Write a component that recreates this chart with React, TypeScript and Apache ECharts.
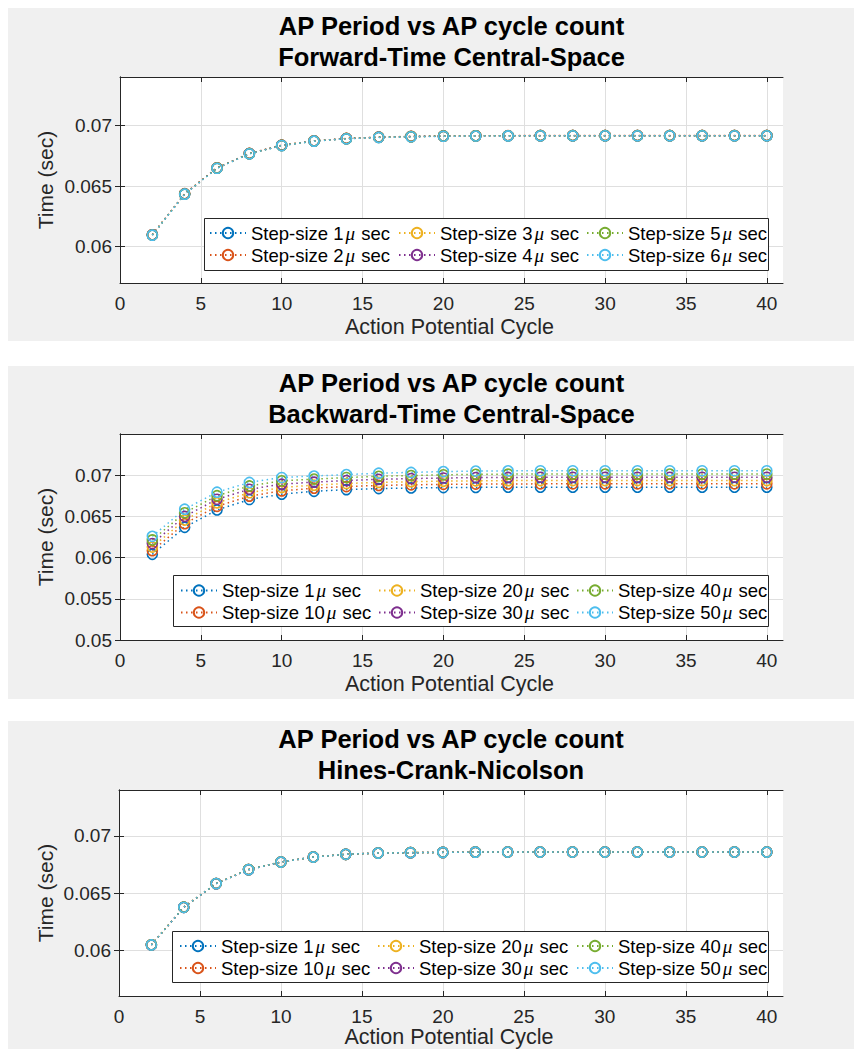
import React, { useEffect, useRef } from 'react';
import * as echarts from 'echarts';

// ---------- data ----------
const cycles = [2, 4, 6, 8, 10, 12, 14, 16, 18, 20, 22, 24, 26, 28, 30, 32, 34, 36, 38, 40];

const panelTitles = [
  'Forward-Time Central-Space',
  'Backward-Time Central-Space',
  'Hines-Crank-Nicolson',
];
const mainTitle = 'AP Period vs AP cycle count';
const xAxisTitle = 'Action Potential Cycle';
const yAxisTitle = 'Time (sec)';

const ftcsSteps = ['1', '2', '3', '4', '5', '6'];
const implicitSteps = ['1', '10', '20', '30', '40', '50'];

// Forward-Time Central-Space (step 1..6 µs) — practically identical
const ftcs1 = [0.06096, 0.06434, 0.06648, 0.06767, 0.06835, 0.06871, 0.06891, 0.06902, 0.06908, 0.06912, 0.06914, 0.06915, 0.06916, 0.06916, 0.06916, 0.06916, 0.06916, 0.06916, 0.06916, 0.06916];
const ftcs2 = [0.06098, 0.06437, 0.06651, 0.06769, 0.06837, 0.06873, 0.06893, 0.06904, 0.06910, 0.06913, 0.06915, 0.06916, 0.06917, 0.06917, 0.06917, 0.06917, 0.06917, 0.06917, 0.06917, 0.06917];
const ftcs3 = [0.06097, 0.06435, 0.06649, 0.06768, 0.06836, 0.06872, 0.06892, 0.06903, 0.06909, 0.06912, 0.06914, 0.06915, 0.06916, 0.06916, 0.06916, 0.06916, 0.06916, 0.06916, 0.06916, 0.06916];
const ftcs4 = [0.06097, 0.06435, 0.06649, 0.06768, 0.06836, 0.06872, 0.06892, 0.06903, 0.06909, 0.06912, 0.06914, 0.06915, 0.06916, 0.06916, 0.06916, 0.06916, 0.06916, 0.06916, 0.06916, 0.06916];
const ftcs5 = [0.06096, 0.06434, 0.06648, 0.06767, 0.06835, 0.06871, 0.06891, 0.06902, 0.06908, 0.06912, 0.06914, 0.06915, 0.06916, 0.06916, 0.06916, 0.06916, 0.06916, 0.06916, 0.06916, 0.06916];
const ftcs6 = [0.06095, 0.06433, 0.06647, 0.06766, 0.06834, 0.06870, 0.06890, 0.06901, 0.06907, 0.06911, 0.06913, 0.06914, 0.06915, 0.06915, 0.06915, 0.06915, 0.06915, 0.06915, 0.06915, 0.06915];

// Backward-Time Central-Space (step 1, 10, 20, 30, 40, 50 µs)
const btcs1 = [0.06040, 0.06368, 0.06578, 0.06705, 0.06770, 0.06805, 0.06825, 0.06838, 0.06845, 0.06850, 0.06852, 0.06854, 0.06855, 0.06855, 0.06855, 0.06855, 0.06855, 0.06855, 0.06855, 0.06855];
const btcs10 = [0.06084, 0.06412, 0.06622, 0.06746, 0.06810, 0.06842, 0.06862, 0.06876, 0.06883, 0.06889, 0.06892, 0.06894, 0.06895, 0.06895, 0.06895, 0.06895, 0.06895, 0.06895, 0.06895, 0.06895];
const btcs20 = [0.06128, 0.06456, 0.06665, 0.06787, 0.06851, 0.06879, 0.06899, 0.06913, 0.06921, 0.06928, 0.06932, 0.06934, 0.06935, 0.06935, 0.06935, 0.06935, 0.06935, 0.06935, 0.06935, 0.06935];
const btcs30 = [0.06171, 0.06500, 0.06708, 0.06829, 0.06891, 0.06916, 0.06935, 0.06950, 0.06959, 0.06966, 0.06971, 0.06973, 0.06975, 0.06975, 0.06975, 0.06975, 0.06975, 0.06975, 0.06975, 0.06975];
const btcs40 = [0.06215, 0.06544, 0.06751, 0.06870, 0.06932, 0.06953, 0.06972, 0.06987, 0.06996, 0.07005, 0.07011, 0.07013, 0.07014, 0.07014, 0.07014, 0.07014, 0.07014, 0.07014, 0.07014, 0.07014];
const btcs50 = [0.06258, 0.06588, 0.06794, 0.06912, 0.06972, 0.06990, 0.07008, 0.07024, 0.07034, 0.07044, 0.07050, 0.07053, 0.07054, 0.07054, 0.07054, 0.07054, 0.07054, 0.07054, 0.07054, 0.07054];

// Hines-Crank-Nicolson (step 1, 10, 20, 30, 40, 50 µs) — practically identical
const hcn1 = [0.06046, 0.06375, 0.06582, 0.06704, 0.06770, 0.06814, 0.06838, 0.06849, 0.06852, 0.06855, 0.06857, 0.06858, 0.06858, 0.06858, 0.06858, 0.06858, 0.06858, 0.06858, 0.06858, 0.06858];
const hcn10 = [0.06047, 0.06376, 0.06583, 0.06705, 0.06771, 0.06815, 0.06838, 0.06849, 0.06853, 0.06855, 0.06857, 0.06858, 0.06858, 0.06858, 0.06858, 0.06858, 0.06858, 0.06858, 0.06858, 0.06858];
const hcn20 = [0.06046, 0.06375, 0.06582, 0.06704, 0.06770, 0.06814, 0.06838, 0.06849, 0.06852, 0.06855, 0.06857, 0.06858, 0.06858, 0.06858, 0.06858, 0.06858, 0.06858, 0.06858, 0.06858, 0.06858];
const hcn30 = [0.06046, 0.06375, 0.06582, 0.06704, 0.06770, 0.06814, 0.06838, 0.06849, 0.06852, 0.06855, 0.06857, 0.06858, 0.06858, 0.06858, 0.06858, 0.06858, 0.06858, 0.06858, 0.06858, 0.06858];
const hcn40 = [0.06047, 0.06376, 0.06583, 0.06705, 0.06771, 0.06814, 0.06838, 0.06849, 0.06853, 0.06855, 0.06857, 0.06858, 0.06858, 0.06858, 0.06858, 0.06858, 0.06858, 0.06858, 0.06858, 0.06858];
const hcn50 = [0.06046, 0.06375, 0.06582, 0.06704, 0.06770, 0.06814, 0.06838, 0.06849, 0.06852, 0.06855, 0.06857, 0.06858, 0.06858, 0.06858, 0.06858, 0.06858, 0.06858, 0.06858, 0.06858, 0.06858];

const xTicks = [0, 5, 10, 15, 20, 25, 30, 35, 40];
const yTicksFtcs = [0.06, 0.065, 0.07];
const yTicksBtcs = [0.05, 0.055, 0.06, 0.065, 0.07];
const yTicksHcn = [0.06, 0.065, 0.07];
const xRange = [0, 41];
const yRangeFtcs = [0.057, 0.074];
const yRangeBtcs = [0.05, 0.075];
const yRangeHcn = [0.056, 0.074];

// ---------- styles / layout ----------
const COLORS = ['#0072BD', '#D95319', '#EDB120', '#7E2F8E', '#77AC30', '#4DBEEE'];
const AX = '#262626';
const FONT = '"Liberation Sans", Arial, sans-serif';

const panels = [
  {
    title: panelTitles[0], steps: ftcsSteps, values: [ftcs1, ftcs2, ftcs3, ftcs4, ftcs5, ftcs6],
    yRange: yRangeFtcs, yTicks: yTicksFtcs,
    bg: { y: 8, h: 333 }, grid: { left: 120, top: 77, width: 663, height: 206 },
    legendBox: { x: 204, y: 218, w: 564, h: 52 }, legendCols: [209, 398, 586], legendTop: 222,
    xNameOffset: 44,
  },
  {
    title: panelTitles[1], steps: implicitSteps, values: [btcs1, btcs10, btcs20, btcs30, btcs40, btcs50],
    yRange: yRangeBtcs, yTicks: yTicksBtcs,
    bg: { y: 366, h: 333 }, grid: { left: 120, top: 434, width: 663, height: 206 },
    legendBox: { x: 173, y: 575, w: 595, h: 51 }, legendCols: [180, 378, 576], legendTop: 579.5,
    xNameOffset: 44,
  },
  {
    title: panelTitles[2], steps: implicitSteps, values: [hcn1, hcn10, hcn20, hcn30, hcn40, hcn50],
    yRange: yRangeHcn, yTicks: yTicksHcn,
    bg: { y: 721, h: 340 }, grid: { left: 119, top: 790, width: 664, height: 206 },
    legendBox: { x: 172, y: 931, w: 596, h: 51 }, legendCols: [179, 377, 576], legendTop: 935,
    xNameOffset: 41,
  },
];

const seriesName = (step: string) => `Step-size ${step}μ sec`;

function buildOption() {
  const grids: any[] = [];
  const xAxes: any[] = [];
  const yAxes: any[] = [];
  const series: any[] = [];
  const legends: any[] = [];
  const graphics: any[] = [];

  panels.forEach((p, pi) => {
    grids.push({ ...p.grid, show: true, backgroundColor: '#fff', borderWidth: 0 });
    const base = {
      gridIndex: pi,
      type: 'value',
      min: xRange[0],
      max: xRange[1],
      axisLine: { show: true, lineStyle: { color: AX, width: 1 } },
    };
    xAxes.push({
      ...base,
      position: 'bottom',
      axisTick: { show: true, inside: true, length: 5, customValues: xTicks, lineStyle: { color: AX } },
      axisLabel: { show: true, customValues: xTicks, margin: 11, color: AX, fontFamily: FONT, fontSize: 19 },
      splitLine: { show: true, lineStyle: { color: '#dfdfdf', width: 1 } },
    });
    xAxes.push({
      ...base,
      position: 'top',
      axisTick: { show: true, inside: true, length: 5, customValues: xTicks, lineStyle: { color: AX } },
      axisLabel: { show: false },
      splitLine: { show: false },
    });
    const ybase = {
      gridIndex: pi,
      type: 'value',
      min: p.yRange[0],
      max: p.yRange[1],
      axisLine: { show: true, lineStyle: { color: AX, width: 1 } },
    };
    yAxes.push({
      ...ybase,
      position: 'left',
      axisTick: { show: true, inside: true, length: 5, customValues: p.yTicks, lineStyle: { color: AX } },
      axisLabel: { show: true, customValues: p.yTicks, margin: 8, color: AX, fontFamily: FONT, fontSize: 19 },
      splitLine: { show: true, lineStyle: { color: '#dfdfdf', width: 1 } },
    });
    yAxes.push({
      ...ybase,
      position: 'right',
      axisTick: { show: true, inside: true, length: 5, customValues: p.yTicks, lineStyle: { color: AX } },
      axisLabel: { show: false },
      splitLine: { show: false },
    });

    p.values.forEach((vals, si) => {
      const c = COLORS[si];
      series.push({
        type: 'line',
        name: seriesName(p.steps[si]),
        xAxisIndex: pi * 2,
        yAxisIndex: pi * 2,
        data: cycles.map((cy, i) => [cy, vals[i]]),
        symbol: 'circle',
        symbolSize: 10,
        showSymbol: true,
        lineStyle: { color: c, width: 1.5, type: [1.5, 3.5] },
        itemStyle: { color: 'rgba(0,0,0,0)', borderColor: c, borderWidth: 1.6 },
        emphasis: { disabled: true },
        silent: true,
      });
    });

    // legends: 3 columns x 2 rows (column-major, like MATLAB NumColumns=3)
    for (let col = 0; col < 3; col++) {
      legends.push({
        orient: 'vertical',
        left: p.legendCols[col],
        top: p.legendTop,
        padding: 0,
        itemGap: 0,
        itemWidth: 36,
        itemHeight: 13,
        selectedMode: false,
        z: 5,
        data: [seriesName(p.steps[col * 2]), seriesName(p.steps[col * 2 + 1])],
        formatter: (name: string) => name.replace('μ', '{mu|μ}'),
        textStyle: {
          fontFamily: FONT,
          fontSize: 18.5,
          color: '#000',
          lineHeight: 22,
          rich: {
            mu: { fontFamily: '"Liberation Serif", serif', fontStyle: 'italic', fontSize: 19, lineHeight: 22, padding: [0, 1, 0, 2] },
          },
        },
      });
    }

    const g = p.grid;
    const cx = g.left + g.width / 2;
    graphics.push({
      type: 'rect', z: -10,
      shape: { x: 8, y: p.bg.y, width: 846, height: p.bg.h },
      style: { fill: '#f0f0f0' },
    });
    graphics.push({
      type: 'rect', z: 4,
      shape: { x: p.legendBox.x + 0.5, y: p.legendBox.y + 0.5, width: p.legendBox.w, height: p.legendBox.h },
      style: { fill: '#fff', stroke: AX, lineWidth: 1 },
    });
    graphics.push({
      type: 'text', z: 5, x: cx, y: g.top - 51,
      style: { text: mainTitle, fill: '#000', fontFamily: FONT, fontWeight: 'bold', fontSize: 25.5, align: 'center', verticalAlign: 'middle' },
    });
    graphics.push({
      type: 'text', z: 5, x: cx, y: g.top - 20,
      style: { text: p.title, fill: '#000', fontFamily: FONT, fontWeight: 'bold', fontSize: 25.5, align: 'center', verticalAlign: 'middle' },
    });
    graphics.push({
      type: 'text', z: 5, x: cx - 2, y: g.top + g.height + p.xNameOffset,
      style: { text: xAxisTitle, fill: AX, fontFamily: FONT, fontSize: 21.5, align: 'center', verticalAlign: 'middle' },
    });
    graphics.push({
      type: 'text', z: 5, x: 45.5, y: g.top + g.height / 2, rotation: Math.PI / 2,
      style: { text: yAxisTitle, fill: AX, fontFamily: FONT, fontSize: 21, align: 'center', verticalAlign: 'middle' },
    });
  });

  return {
    animation: false,
    backgroundColor: '#fff',
    grid: grids,
    xAxis: xAxes,
    yAxis: yAxes,
    legend: legends,
    series,
    graphic: { elements: graphics },
  };
}

export default function App() {
  const ref = useRef<HTMLDivElement>(null);
  useEffect(() => {
    if (!ref.current) return;
    const chart = echarts.init(ref.current, undefined, { renderer: 'svg' });
    chart.setOption(buildOption() as any);
    return () => chart.dispose();
  }, []);
  return (
    <div
      ref={ref}
      style={{ position: 'fixed', left: 0, top: 0, width: 854, height: 1049 }}
    />
  );
}
